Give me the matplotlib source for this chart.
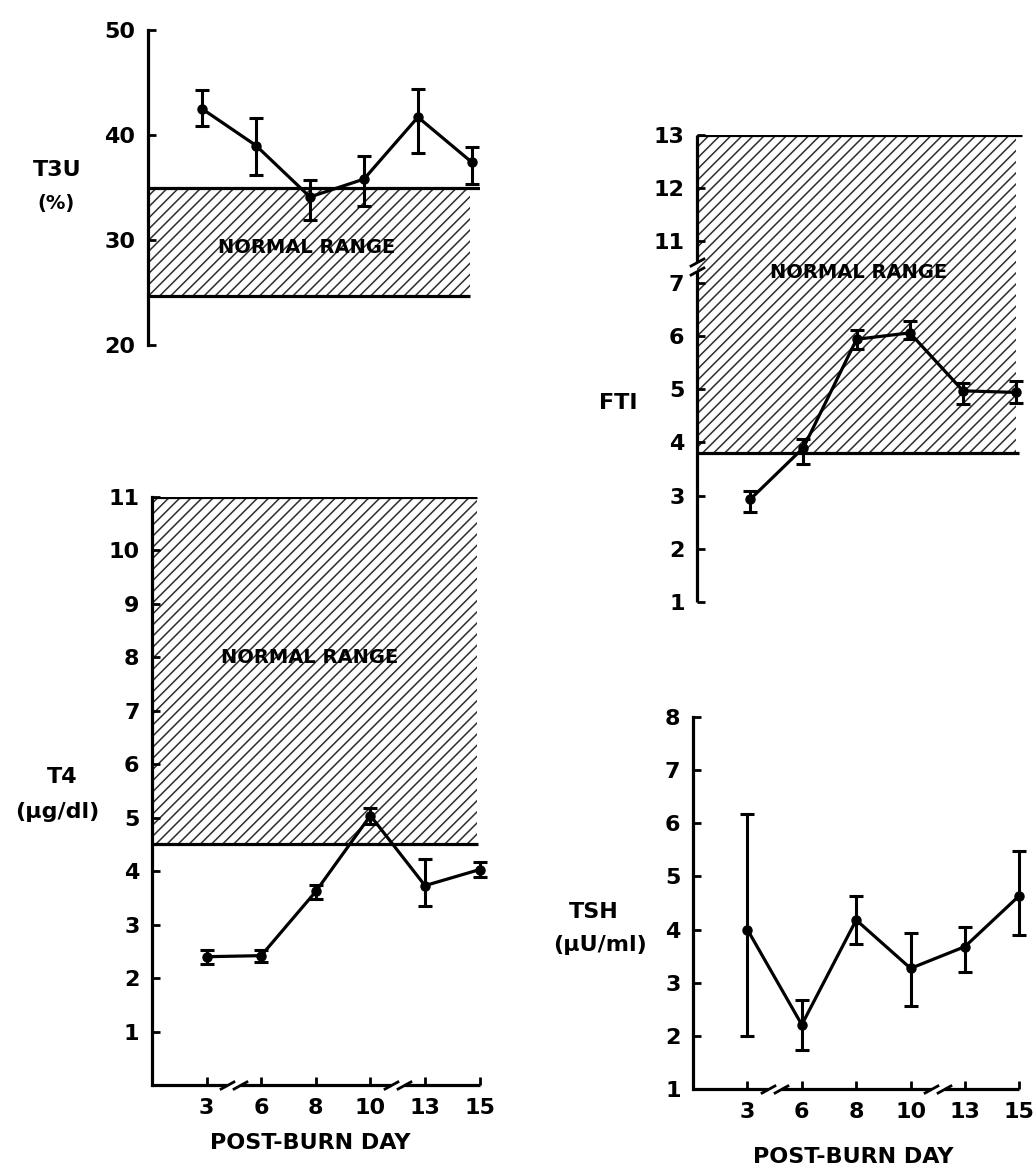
import numpy as np
import matplotlib
matplotlib.use("Agg")
import matplotlib.pyplot as plt
from matplotlib.path import Path

# post-burn days (plotted as evenly spaced categories, axis is broken)
days = ["3", "6", "8", "10", "13", "15"]

t3u_mean = [42.5, 39.0, 34.1, 35.8, 41.7, 37.4]
t3u_low = [40.9, 36.2, 31.9, 33.2, 38.3, 35.3]
t3u_high = [44.3, 41.6, 35.7, 38.0, 44.4, 38.9]
t3u_normal = [24.7, 35.0]

t4_mean = [2.40, 2.42, 3.62, 5.04, 3.73, 4.03]
t4_low = [2.27, 2.30, 3.48, 4.88, 3.34, 3.89]
t4_high = [2.52, 2.53, 3.75, 5.18, 4.23, 4.17]
t4_normal = [4.5, 11.0]

fti_mean = [2.93, 3.90, 5.94, 6.06, 4.97, 4.94]
fti_low = [2.69, 3.60, 5.76, 5.94, 4.72, 4.75]
fti_high = [3.09, 4.06, 6.12, 6.29, 5.12, 5.16]
fti_normal = [3.8, 13.0]

tsh_mean = [4.00, 2.21, 4.18, 3.27, 3.68, 4.64]
tsh_low = [2.00, 1.73, 3.72, 2.56, 3.21, 3.90]
tsh_high = [6.17, 2.68, 4.64, 3.93, 4.04, 5.47]

W, H = 1034, 1173
LW = 2.3
plt.rcParams["font.family"] = ["DejaVu Sans"]
plt.rcParams["hatch.linewidth"] = 1.1

fig = plt.figure(figsize=(W / 100, H / 100), dpi=100)
x = np.arange(len(days))
slash = Path([[-1.0, -0.55], [1.0, 0.55]], [Path.MOVETO, Path.LINETO])


def px_axes(left, top, right, bottom):
    return fig.add_axes([left / W, 1 - bottom / H, (right - left) / W, (bottom - top) / H])


def base(ax, yticks, ylim, bottom_axis):
    ax.set_xlim(-1, 5.15)
    ax.set_ylim(*ylim)
    for s in ["top", "right", "bottom"]:
        ax.spines[s].set_visible(False)
    ax.spines["left"].set_linewidth(LW)
    ax.set_yticks(yticks)
    ax.tick_params(axis="y", direction="in", length=6, width=2, labelsize=16, pad=9)
    for t in ax.get_yticklabels():
        t.set_fontweight("bold")
    if bottom_axis:
        ax.set_xticks(x)
        ax.set_xticklabels(days, fontweight="bold")
        ax.tick_params(axis="x", direction="in", length=6, width=2, labelsize=16, pad=9)
        # broken x axis between 3|6 and 10|13
        breaks = [(x[0] + x[1]) / 2, (x[3] + x[4]) / 2]
        g = 0.12
        edges = [-1.0] + [v for b in breaks for v in (b - g, b + g)] + [x[-1]]
        tr = ax.get_xaxis_transform()
        for a, b in zip(edges[::2], edges[1::2]):
            ax.plot([a, b], [0, 0], color="k", lw=LW, transform=tr, clip_on=False,
                    solid_capstyle="butt")
        for b in breaks:
            ax.plot([b - g, b + g], [0, 0], ls="none", marker=slash, ms=11, mew=2,
                    color="k", transform=tr, clip_on=False)
    else:
        ax.set_xticks([])


def normal_range(ax, rng, right_fill, right_top, right_bot):
    ax.fill_between([-1, right_fill], rng[0], rng[1], facecolor="none",
                    edgecolor="#2e2e2e", hatch="///", linewidth=0)
    ax.hlines(rng[1], -1, right_top, color="k", lw=LW)
    ax.hlines(rng[0], -1, right_bot, color="k", lw=LW)


def series(ax, mean, low, high):
    mean = np.array(mean)
    err = [mean - np.array(low), np.array(high) - mean]
    ax.errorbar(x, mean, yerr=err, fmt="-o", color="k", lw=LW, ms=6.5,
                elinewidth=2.2, capsize=5, capthick=2.2, zorder=5)


def fig_label(px, py, s, size=16):
    fig.text(px / W, 1 - py / H, s, ha="center", va="center", fontsize=size,
             fontweight="bold")


def range_label(ax, xi, yv):
    ax.text(xi, yv, "NORMAL RANGE", ha="center", va="center", fontsize=14,
            fontweight="bold", zorder=6)


# ---- T3U ----
ax1 = px_axes(148, 30, 480, 345)
base(ax1, [20, 30, 40, 50], (20, 50), False)
normal_range(ax1, t3u_normal, 4.97, 5.15, 4.97)
series(ax1, t3u_mean, t3u_low, t3u_high)
range_label(ax1, 1.94, 29.3)
fig_label(57, 170, "T3U")
fig_label(56, 203, "(%)", 14)

# ---- T4 ----
ax2 = px_axes(152, 497, 152 + 6.15 * 54.6, 1085)
base(ax2, range(1, 12), (0, 11), True)
normal_range(ax2, t4_normal, 4.95, 4.95, 4.97)
series(ax2, t4_mean, t4_low, t4_high)
range_label(ax2, 1.89, 8.0)
fig_label(62, 777, "T4")
fig_label(57, 812, "(\u00b5g/dl)")
fig_label(310, 1143, "POST-BURN DAY")


# ---- FTI (broken y axis) ----
def fwd(v):
    v = np.asarray(v, dtype=float)
    return np.where(v <= 7.3, v, np.where(v < 10.55, 7.3 + (v - 7.3) * 0.03 / 3.25, v - 3.22))


def inv(u):
    u = np.asarray(u, dtype=float)
    return np.where(u <= 7.3, u, np.where(u < 7.33, 7.3 + (u - 7.3) * 3.25 / 0.03, u + 3.22))


ax3 = px_axes(697, 135, 697 + 6.15 * 53.2, 602)
ax3.set_yscale("function", functions=(fwd, inv))
base(ax3, [1, 2, 3, 4, 5, 6, 7, 11, 12, 13], (1, 13), False)
ax3.spines["left"].set_visible(False)
ytr = ax3.get_yaxis_transform()
for a, b in [(1, 7.22), (10.62, 13)]:
    ax3.plot([0, 0], [a, b], color="k", lw=LW, transform=ytr, clip_on=False,
             solid_capstyle="butt")
ax3.plot([0, 0], [7.22, 10.62], ls="none", marker=slash, ms=11, mew=2, color="k",
         transform=ytr, clip_on=False)
normal_range(ax3, fti_normal, 5.0, 5.1, 5.05)
series(ax3, fti_mean, fti_low, fti_high)
range_label(ax3, 2.03, 7.2)
fig_label(618, 403, "FTI")

# ---- TSH ----
ax4 = px_axes(693, 717, 693 + 6.15 * 54.4, 1089)
base(ax4, range(1, 9), (1, 8), True)
series(ax4, tsh_mean, tsh_low, tsh_high)
fig_label(594, 912, "TSH")
fig_label(600, 945, "(\u00b5U/ml)")
fig_label(853, 1157, "POST-BURN DAY")

fig.savefig("out.png", dpi=100, facecolor="white")
